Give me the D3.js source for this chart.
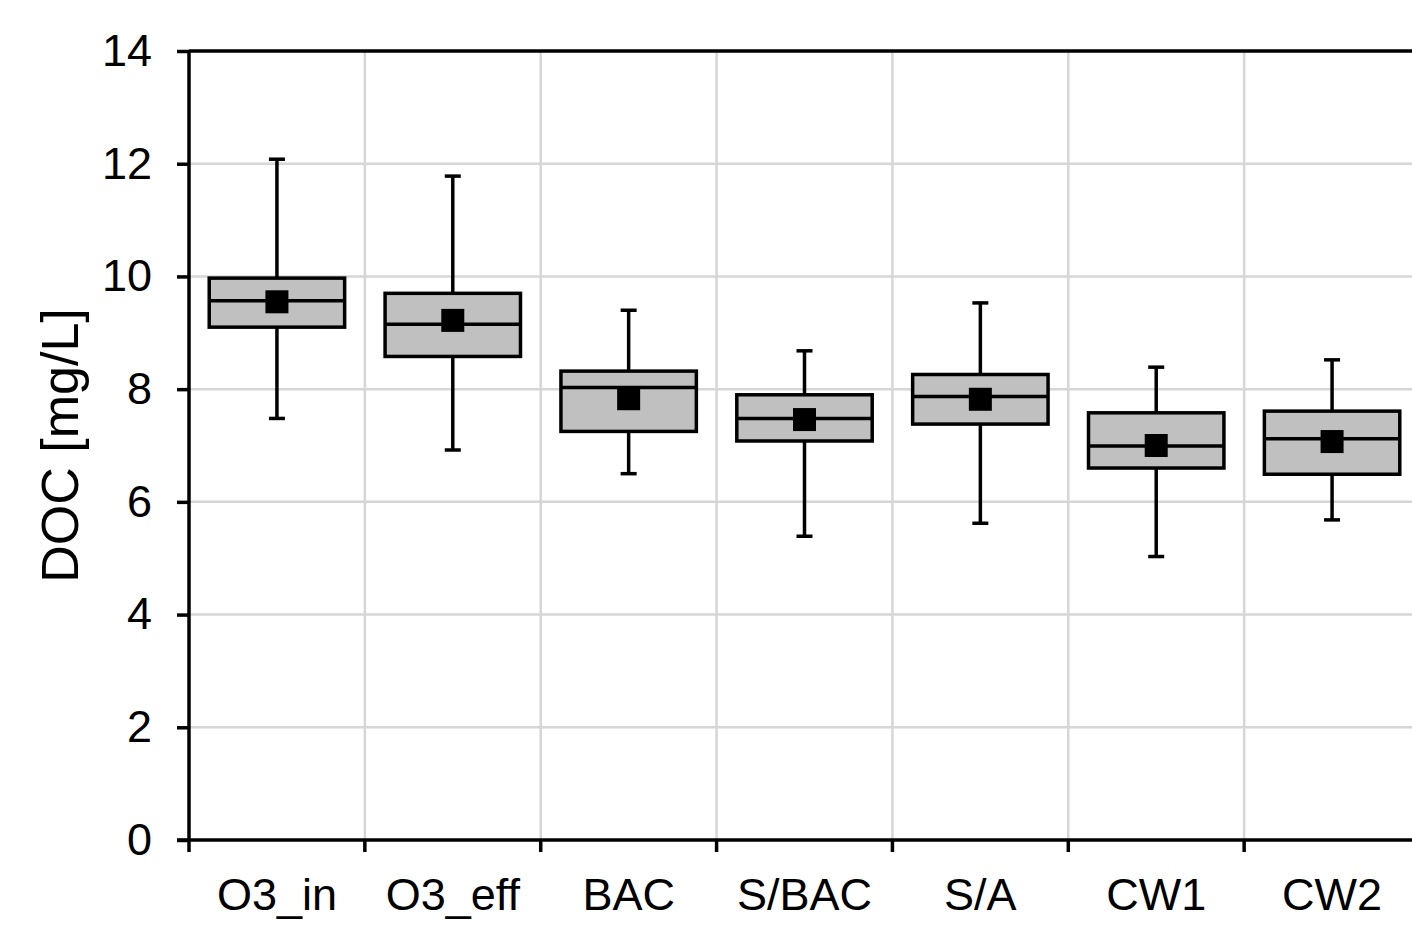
<!DOCTYPE html>
<html>
<head>
<meta charset="utf-8">
<script src="https://cdn.jsdelivr.net/npm/d3@7"></script>
<style>
  body { margin: 0; background: #fff; }
  svg { display: block; font-family: "Liberation Sans", Arial, sans-serif; }
</style>
</head>
<body>
<svg width="1412" height="925"></svg>
<script>
// data
const categories = ["O3_in", "O3_eff", "BAC", "S/BAC", "S/A", "CW1", "CW2"];
const whiskerLow = [7.48, 6.92, 6.50, 5.39, 5.62, 5.03, 5.68];
const q1 = [9.10, 8.58, 7.25, 7.08, 7.38, 6.60, 6.49];
const median = [9.57, 9.15, 8.03, 7.48, 7.87, 6.99, 7.12];
const q3 = [9.97, 9.70, 8.32, 7.90, 8.26, 7.58, 7.61];
const whiskerHigh = [12.08, 11.78, 9.40, 8.68, 9.53, 8.39, 8.52];
const mean = [9.55, 9.22, 7.83, 7.46, 7.82, 7.00, 7.07];
const yTicks = [0, 2, 4, 6, 8, 10, 12, 14];

const data = categories.map((c, i) => ({
  cat: c,
  lo: whiskerLow[i],
  q1: q1[i],
  med: median[i],
  q3: q3[i],
  hi: whiskerHigh[i],
  mean: mean[i]
}));

const svg = d3.select("svg");
const margin = { top: 51, left: 189 };
const innerWidth = 1231;   // runs past the right edge, as in the original
const innerHeight = 789;

const g = svg.append("g").attr("transform", `translate(${margin.left},${margin.top})`);

const x = d3.scaleBand().domain(categories).range([0, innerWidth]).padding(0);
const y = d3.scaleLinear().domain([0, 14]).range([innerHeight, 0]);

const boxW = x.bandwidth() * 0.77;
const capW = 16;
const markSize = 23;
const sw = 3.5;

// grid
g.append("g")
  .selectAll("line")
  .data(yTicks.filter(d => d > 0 && d < 14))
  .join("line")
  .attr("x1", 0)
  .attr("x2", innerWidth)
  .attr("y1", d => y(d))
  .attr("y2", d => y(d))
  .attr("stroke", "#d6d6d6")
  .attr("stroke-width", 2.5);

g.append("g")
  .selectAll("line")
  .data(categories.slice(1))
  .join("line")
  .attr("x1", d => x(d))
  .attr("x2", d => x(d))
  .attr("y1", 0)
  .attr("y2", innerHeight)
  .attr("stroke", "#d6d6d6")
  .attr("stroke-width", 2.5);

// top frame line
g.append("line")
  .attr("x1", 0)
  .attr("x2", innerWidth)
  .attr("y1", 0)
  .attr("y2", 0)
  .attr("stroke", "#000")
  .attr("stroke-width", sw);

// y axis
const yAxisG = g.append("g")
  .call(d3.axisLeft(y).tickValues(yTicks).tickSize(12).tickPadding(25));
yAxisG.select(".domain").attr("stroke-width", sw).attr("d", `M0,0V${innerHeight}`);
yAxisG.selectAll(".tick line").attr("stroke-width", sw);
yAxisG.selectAll("text")
  .attr("font-size", 45)
  .attr("fill", "#000")
  .style("font-family", "Liberation Sans, Arial, sans-serif");

// x axis: labels at band centers
const xAxisG = g.append("g")
  .attr("transform", `translate(0,${innerHeight})`)
  .call(d3.axisBottom(x).tickSize(0).tickPadding(38));
xAxisG.select(".domain").attr("stroke-width", sw).attr("d", `M-12,0H${innerWidth}`);
xAxisG.selectAll("text")
  .attr("font-size", 45)
  .attr("fill", "#000")
  .style("font-family", "Liberation Sans, Arial, sans-serif");

// x ticks at band boundaries
xAxisG.append("g")
  .selectAll("line")
  .data(categories)
  .join("line")
  .attr("x1", d => x(d))
  .attr("x2", d => x(d))
  .attr("y1", 0)
  .attr("y2", 12)
  .attr("stroke", "#000")
  .attr("stroke-width", sw);

// y axis title
svg.append("text")
  .attr("transform", `translate(78,${margin.top + y(7.0)}) rotate(-90)`)
  .attr("text-anchor", "middle")
  .attr("font-size", 52)
  .attr("fill", "#000")
  .text("DOC [mg/L]");

// boxes
const boxes = g.selectAll(".box")
  .data(data)
  .join("g")
  .attr("class", "box")
  .attr("transform", d => `translate(${x(d.cat) + x.bandwidth() / 2},0)`);

boxes.append("line")
  .attr("y1", d => y(d.hi))
  .attr("y2", d => y(d.q3))
  .attr("stroke", "#000")
  .attr("stroke-width", sw);

boxes.append("line")
  .attr("y1", d => y(d.q1))
  .attr("y2", d => y(d.lo))
  .attr("stroke", "#000")
  .attr("stroke-width", sw);

boxes.append("line")
  .attr("x1", -capW / 2)
  .attr("x2", capW / 2)
  .attr("y1", d => y(d.hi))
  .attr("y2", d => y(d.hi))
  .attr("stroke", "#000")
  .attr("stroke-width", sw);

boxes.append("line")
  .attr("x1", -capW / 2)
  .attr("x2", capW / 2)
  .attr("y1", d => y(d.lo))
  .attr("y2", d => y(d.lo))
  .attr("stroke", "#000")
  .attr("stroke-width", sw);

boxes.append("rect")
  .attr("x", -boxW / 2)
  .attr("width", boxW)
  .attr("y", d => y(d.q3))
  .attr("height", d => y(d.q1) - y(d.q3))
  .attr("fill", "#c0c0c0")
  .attr("stroke", "#000")
  .attr("stroke-width", sw);

boxes.append("line")
  .attr("x1", -boxW / 2)
  .attr("x2", boxW / 2)
  .attr("y1", d => y(d.med))
  .attr("y2", d => y(d.med))
  .attr("stroke", "#000")
  .attr("stroke-width", sw);

boxes.append("rect")
  .attr("x", -markSize / 2)
  .attr("y", d => y(d.mean) - markSize / 2)
  .attr("width", markSize)
  .attr("height", markSize)
  .attr("fill", "#000");
</script>
</body>
</html>
